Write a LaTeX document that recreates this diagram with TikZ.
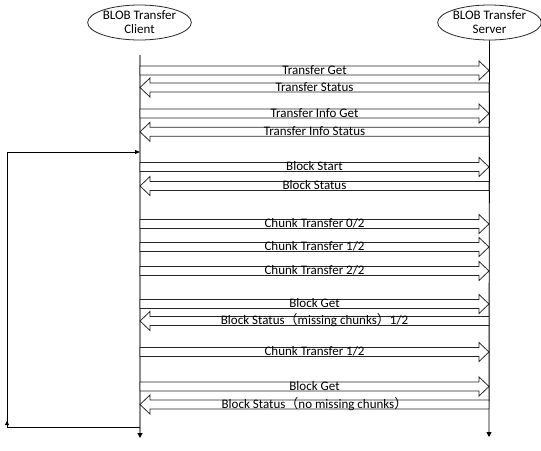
\documentclass[tikz,border=0pt]{standalone}
\usepackage{fontspec}
\setmainfont{Carlito}
\newfontfamily\cjk{Noto Sans CJK SC}
\usetikzlibrary{arrows.meta,shapes.geometric}
\tikzset{
  blk/.style={draw=black!85, line width=0.8pt, fill=white, line join=miter},
  lbl/.style={font=\fontsize{13}{15}\selectfont, inner sep=0pt, anchor=base},
  actor/.style={ellipse, draw=black!85, line width=0.8pt, inner sep=0pt, align=center,
    font=\fontsize{13}{14}\selectfont, minimum height=35pt},
  tipsm/.style={-{Triangle[length=5pt,width=5pt,color=black]}},
}
\newcommand\msgR[3]{%
  \draw[blk] (140,#1-4.5) -- (479,#1-4.5) -- (479,#1-9.5) -- (489,#1) -- (479,#1+9.5) -- (479,#1+4.5) -- (140,#1+4.5) -- cycle;
  \node[lbl] (#2) at (314.5,#1+3.5) {#3};}
\newcommand\msgL[3]{%
  \draw[blk] (489,#1-4.5) -- (150,#1-4.5) -- (150,#1-9.5) -- (140,#1) -- (150,#1+9.5) -- (150,#1+4.5) -- (489,#1+4.5) -- cycle;
  \node[lbl] (#2) at (314.5,#1+3.5) {#3};}
\begin{document}
\begin{tikzpicture}[x=1pt,y=-1pt]
\fill[white] (0,0) rectangle (541,450);
\useasboundingbox (0,0) rectangle (541,450);
% actors
\node[actor, minimum width=95pt] (client) at (139.5,22.5) {BLOB Transfer\\Client};
\node[actor, minimum width=98pt] (server) at (489.5,22.5) {BLOB Transfer\\Server};
% lifelines
\coordinate (ctop) at (140,55);
\coordinate (cbot) at (140,438);
\coordinate (sbot) at (489,437);
\draw[black!45, line width=1.5pt, tipsm] (ctop) -- (cbot);
\draw[black, line width=0.9pt, tipsm] (server.south) -- (sbot);
% loop
\coordinate (lb) at (140,427);
\coordinate (lbl) at (7,427);
\coordinate (ltl) at (7,152);
\coordinate (lt) at (140,152);
\draw[black, line width=0.9pt, -{Triangle[length=5pt,width=4pt]}] (lb) -- (lbl) -- (ltl) -- (lt);
\draw[black, line width=0.9pt, -{Triangle[length=4pt,width=4pt]}] (lbl) -- (7,421);
% messages
\msgR{70.5}{m1}{Transfer Get}
\msgL{87.5}{m2}{Transfer Status}
\msgR{113.5}{m3}{Transfer Info Get}
\msgL{131.8}{m4}{Transfer Info Status}
\msgR{167}{m5}{Block Start}
\msgL{186}{m6}{Block Status}
\msgR{224}{m7}{Chunk Transfer 0/2}
\msgR{247}{m8}{Chunk Transfer 1/2}
\msgR{271}{m9}{Chunk Transfer 2/2}
\msgR{304}{m10}{Block Get}
\msgL{321}{m11}{Block Status{\cjk（}missing chunks{\cjk）}1/2}
\msgR{352}{m12}{Chunk Transfer 1/2}
\msgR{386.5}{m13}{Block Get}
\msgL{404.5}{m14}{Block Status{\cjk（}no missing chunks{\cjk）}}
\end{tikzpicture}
\end{document}
